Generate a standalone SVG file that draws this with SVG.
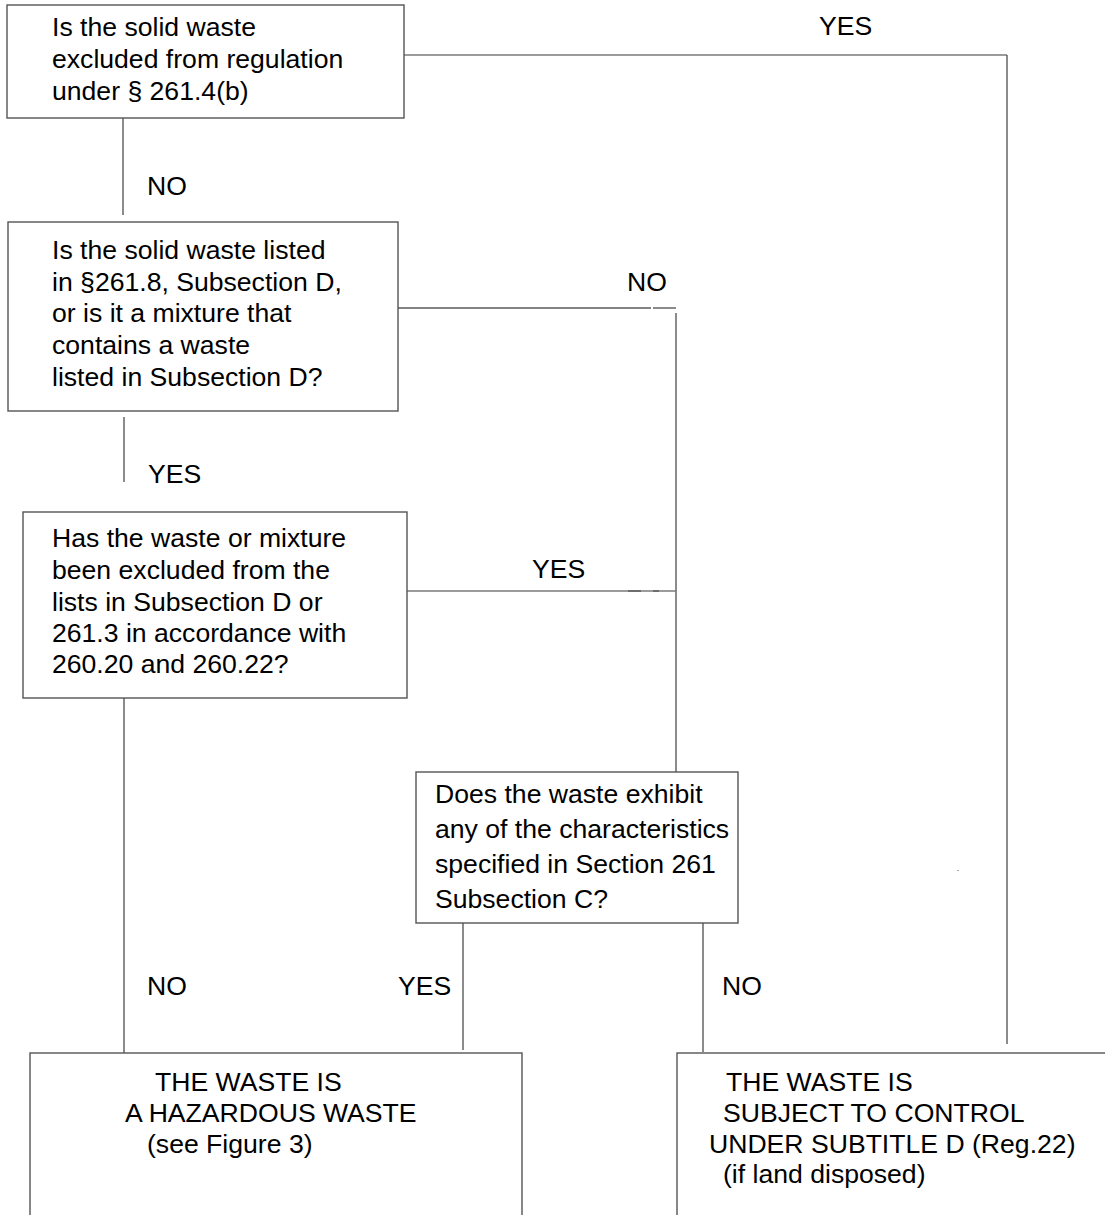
<svg xmlns="http://www.w3.org/2000/svg" width="1105" height="1215" viewBox="0 0 1105 1215">
<style>
  .box { fill: #ffffff; stroke: #555555; stroke-width: 1.4; }
  .ln { stroke: #5a5a5a; stroke-width: 1.4; fill: none; }
  .lg { stroke: #7a7a7a; stroke-width: 1.4; fill: none; }
  text { font-family: "Liberation Sans", Arial, sans-serif; font-size: 26.6px; fill: #000000; }
</style>
<rect x="0" y="0" width="1105" height="1215" fill="#ffffff"/>
<g id="connectors">
  <line class="lg" x1="404" y1="55" x2="1007" y2="55"/>
  <line class="ln" x1="1007" y1="55" x2="1007" y2="1044"/>
  <line class="ln" x1="123" y1="118" x2="123" y2="215"/>
  <line class="ln" x1="124" y1="417" x2="124" y2="482"/>
  <line class="ln" x1="398" y1="308" x2="651" y2="308"/>
  <line class="ln" x1="653" y1="308" x2="676" y2="308"/>
  <line class="ln" x1="676" y1="313" x2="676" y2="772"/>
  <line class="lg" x1="407" y1="591" x2="676" y2="591"/>
  <line class="ln" x1="628" y1="591" x2="641" y2="591"/>
  <line class="ln" x1="653" y1="591" x2="659" y2="591"/>
  <line class="ln" x1="124" y1="698" x2="124" y2="1053"/>
  <line class="ln" x1="463" y1="923" x2="463" y2="1050"/>
  <line class="ln" x1="703" y1="923" x2="703" y2="1052"/>
  <rect x="957" y="870" width="2" height="1" fill="#aaaaaa"/>
  <text x="819" y="35">YES</text>
  <text x="147" y="195">NO</text>
  <text x="627" y="291">NO</text>
  <text x="148" y="483">YES</text>
  <text x="532" y="578">YES</text>
  <text x="147" y="995">NO</text>
  <text x="398" y="995">YES</text>
  <text x="722" y="995">NO</text>
</g>
<g id="node-excluded">
  <rect class="box" x="7" y="5" width="397" height="113"/>
  <text x="52" y="36">Is the solid waste</text>
  <text x="52" y="68">excluded from regulation</text>
  <text x="52" y="100">under § 261.4(b)</text>
</g>
<g id="node-listed">
  <rect class="box" x="8" y="222" width="390" height="189"/>
  <text x="52" y="259">Is the solid waste listed</text>
  <text x="52" y="291">in §261.8, Subsection D,</text>
  <text x="52" y="322">or is it a mixture that</text>
  <text x="52" y="354">contains a waste</text>
  <text x="52" y="386">listed in Subsection D?</text>
</g>
<g id="node-delisted">
  <rect class="box" x="23" y="512" width="384" height="186"/>
  <text x="52" y="547">Has the waste or mixture</text>
  <text x="52" y="579">been excluded from the</text>
  <text x="52" y="611">lists in Subsection D or</text>
  <text x="52" y="642">261.3 in accordance with</text>
  <text x="52" y="673">260.20 and 260.22?</text>
</g>
<g id="node-characteristics">
  <rect class="box" x="416" y="772" width="322" height="151"/>
  <text x="435" y="803">Does the waste exhibit</text>
  <text x="435" y="838">any of the characteristics</text>
  <text x="435" y="873">specified in Section 261</text>
  <text x="435" y="908">Subsection C?</text>
</g>
<g id="node-hazardous">
  <rect class="box" x="30" y="1053" width="492" height="180"/>
  <text x="155" y="1091">THE WASTE IS</text>
  <text x="125" y="1122">A HAZARDOUS WASTE</text>
  <text x="147" y="1153">(see Figure 3)</text>
</g>
<g id="node-subtitle-d">
  <rect class="box" x="677" y="1053" width="440" height="180"/>
  <text x="726" y="1091">THE WASTE IS</text>
  <text x="723" y="1122">SUBJECT TO CONTROL</text>
  <text x="709" y="1153">UNDER SUBTITLE D (Reg.22)</text>
  <text x="723" y="1183">(if land disposed)</text>
</g>
</svg>
